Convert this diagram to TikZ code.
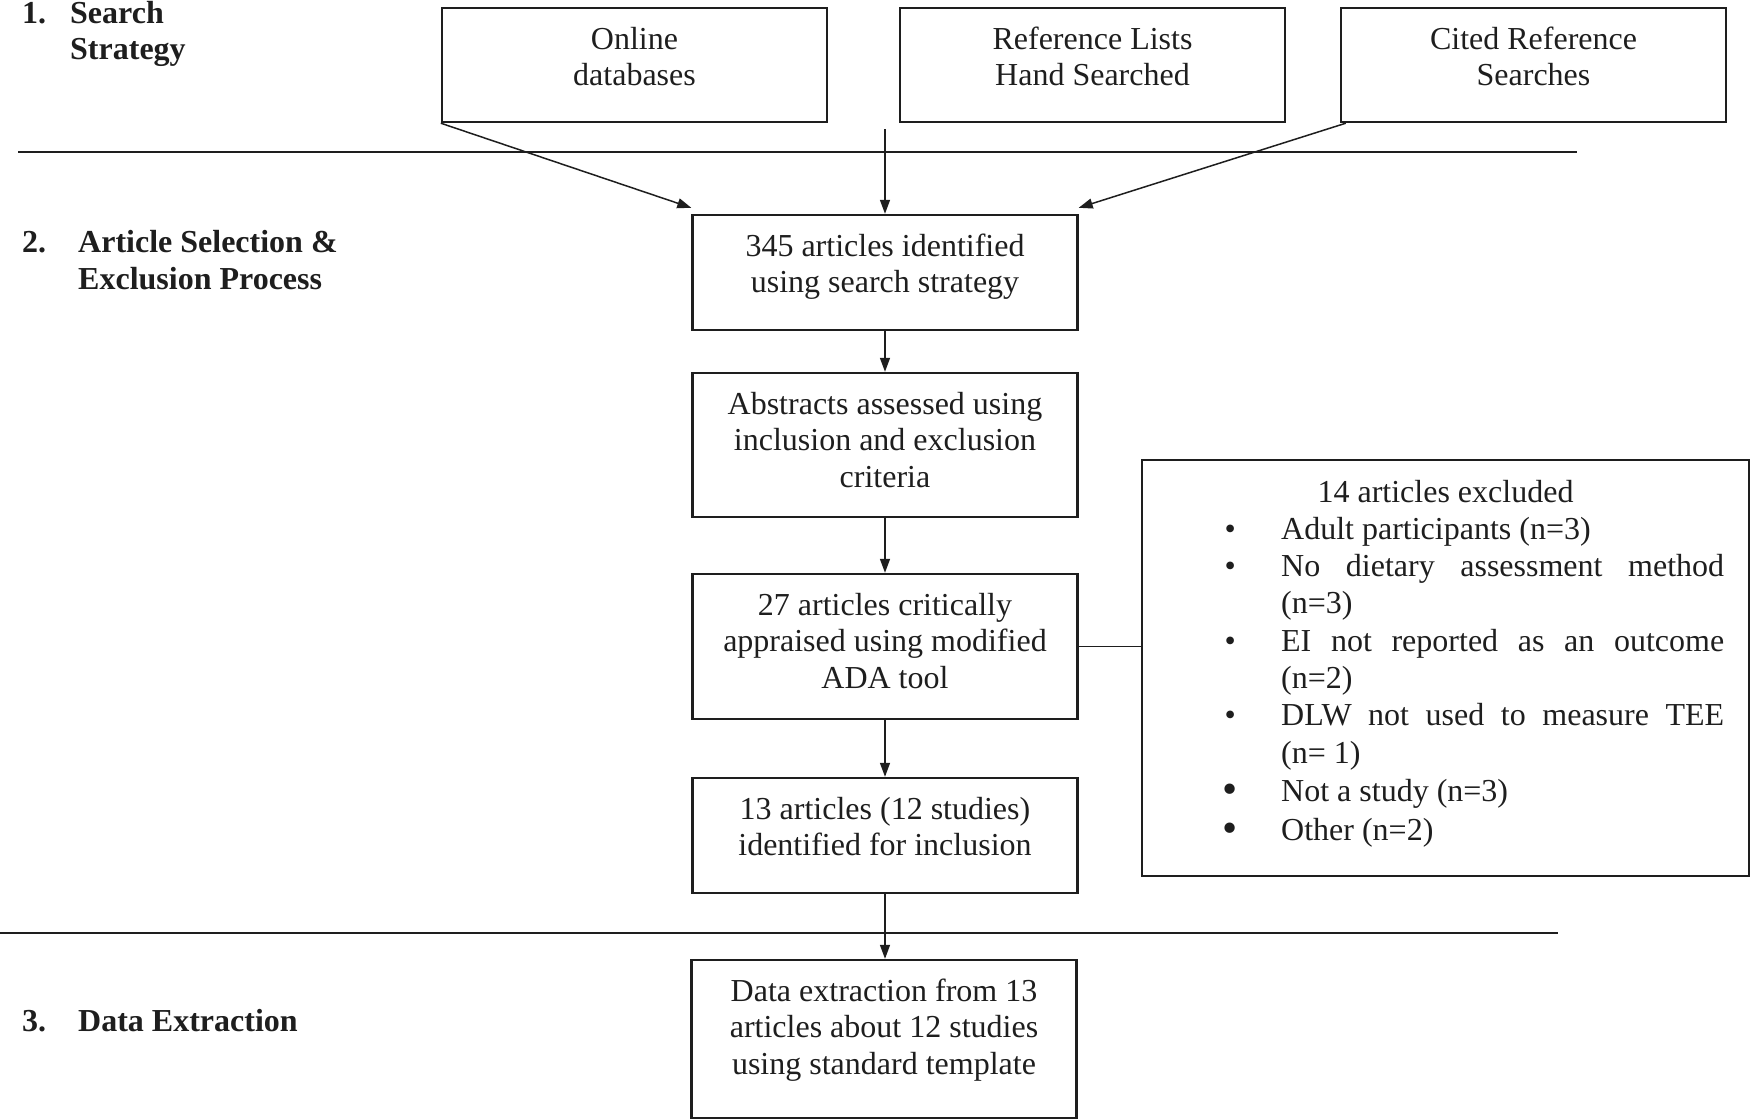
\documentclass[tikz,border=0pt]{standalone}
\usepackage{fontspec}
\usepackage{graphicx}
\setmainfont{Liberation Serif}
\usetikzlibrary{arrows.meta}
\definecolor{ink}{RGB}{30,30,30}
\newcommand{\bx}[3]{\parbox[c][#2][t]{#1}{\centering\rule{0pt}{41pt}#3}}
\newcommand{\bigbul}{\raisebox{-2.5pt}{\scalebox{1.35}{\textbullet}}}
\begin{document}
\begin{tikzpicture}[x=1pt,y=-1pt,
  box/.style={draw=ink,line width=2.4pt,inner sep=0pt,text=ink,font=\fontsize{32}{36.8}\selectfont},
  txt/.style={inner sep=0pt,text=ink,font=\fontsize{32}{36.8}\selectfont},
  lab/.style={inner sep=0pt,text=ink,font=\fontsize{32}{36.8}\selectfont\bfseries},
  arr/.style={draw=ink,line width=1.5pt,-{Triangle[length=14pt,width=10pt]}},
  conn/.style={draw=ink,line width=1.6pt},
  rule/.style={draw=ink,line width=1.6pt}]
\useasboundingbox (0,0) rectangle (1750,1119);

% section labels
\node[lab,anchor=base west] (s1n) at (22,23) {1.};
\node[lab,anchor=base west] (s1a) at (70,23) {Search};
\node[lab,anchor=base west] (s1b) at (70,59) {Strategy};
\node[lab,anchor=base west] (s2n) at (22,252) {2.};
\node[lab,anchor=base west] (s2a) at (78,252) {Article Selection \&};
\node[lab,anchor=base west] (s2b) at (78,289) {Exclusion Process};
\node[lab,anchor=base west] (s3n) at (22,1031) {3.};
\node[lab,anchor=base west] (s3a) at (78,1031) {Data Extraction};

% rules
\draw[rule] (18,152) -- (1577,152);
\draw[rule] (0,933) -- (1558,933);

% top boxes
\node[box] (online) at (634.5,65) {\bx{385pt}{114pt}{Online\\databases}};
\node[box] (ref) at (1092.5,65) {\bx{385pt}{114pt}{Reference Lists\\Hand Searched}};
\node[box] (cited) at (1533.5,65) {\bx{385pt}{114pt}{Cited Reference\\Searches}};

% central boxes
\node[box] (n345) at (885,272.5) {\bx{385pt}{115pt}{345 articles identified\\using search strategy}};
\node[box] (abs) at (885,445) {\bx{385pt}{144pt}{Abstracts assessed using\\inclusion and exclusion\\criteria}};
\node[box] (n27) at (885,646.5) {\bx{385pt}{145pt}{27 articles critically\\appraised using modified\\ADA tool}};
\node[box] (n13) at (885,835.5) {\bx{385pt}{115pt}{13 articles (12 studies)\\identified for inclusion}};
\node[box] (data) at (884,1039) {\bx{385pt}{158pt}{Data extraction from 13\\articles about 12 studies\\using standard template}};

% exclusion box
\node[draw=ink,line width=2.4pt,inner sep=0pt,minimum width=607pt,minimum height=416pt] (excl) at (1445.5,668) {};
\node[txt,anchor=base] (e0) at (1445.5,502) {14 articles excluded};
\node[txt,anchor=base west] (e1) at (1230,539.3) {\makebox[0pt]{\textbullet}\hspace*{51pt}Adult participants (n=3)};
\node[txt,anchor=base west] (e2) at (1230,576.6) {\makebox[0pt]{\textbullet}\hspace*{51pt}\makebox[443pt][s]{No dietary assessment method}};
\node[txt,anchor=base west] (e3) at (1281,613.9) {(n=3)};
\node[txt,anchor=base west] (e4) at (1230,651.2) {\makebox[0pt]{\textbullet}\hspace*{51pt}\makebox[443pt][s]{EI not reported as an outcome}};
\node[txt,anchor=base west] (e5) at (1281,688.5) {(n=2)};
\node[txt,anchor=base west] (e6) at (1230,725.8) {\makebox[0pt]{\textbullet}\hspace*{51pt}\makebox[443pt][s]{DLW not used to measure TEE}};
\node[txt,anchor=base west] (e7) at (1281,763.1) {(n= 1)};
\node[txt,anchor=base west] (e8) at (1230,801) {\makebox[0pt]{\bigbul}\hspace*{51pt}Not a study (n=3)};
\node[txt,anchor=base west] (e9) at (1230,840) {\makebox[0pt]{\bigbul}\hspace*{51pt}Other (n=2)};

% connectors
\coordinate (refstart) at (885,129);
\draw[arr] (online.south west) -- ([yshift=6pt]n345.north west);
\draw[arr] (refstart) -- (n345.north);
\draw[arr] ([xshift=6pt]cited.south west) -- ([yshift=6pt]n345.north east);
\draw[arr] (n345.south) -- (abs.north);
\draw[arr] (abs.south) -- (n27.north);
\draw[arr] (n27.south) -- (n13.north);
\draw[arr] (n13.south) -- (data.north -| n13.south);
\draw[conn] (n27.east) -- (n27.east -| excl.west);
\end{tikzpicture}
\end{document}
